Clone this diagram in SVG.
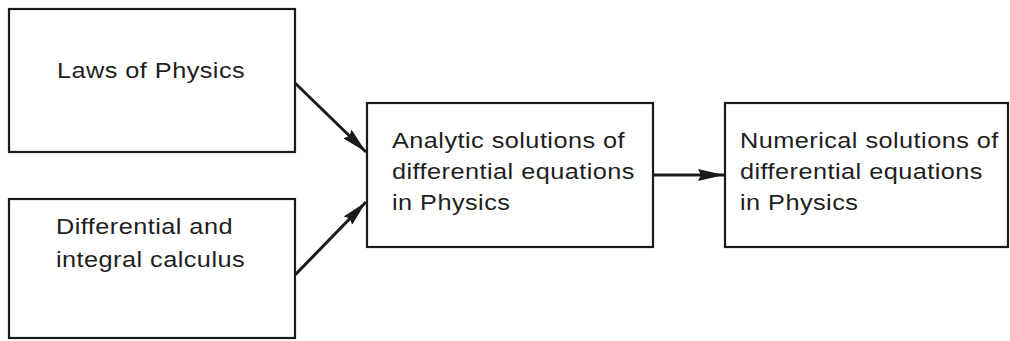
<svg xmlns="http://www.w3.org/2000/svg" width="1010" height="341" viewBox="0 0 1010 341">
<defs>
<style>
.box{fill:#fff;stroke:#1a1a1a;stroke-width:2.2}
.t{font-family:"Liberation Sans",Arial,sans-serif;font-size:22px;fill:#1e1e1e;letter-spacing:0.4px}
.c{stroke:#1a1a1a;stroke-width:3;fill:none}
</style>
<marker id="ah" viewBox="0 0 26 12" refX="26" refY="6" markerWidth="26" markerHeight="12" markerUnits="userSpaceOnUse" orient="auto">
<path d="M0,0 L26,6 L0,12 L3,6 z" fill="#1a1a1a"/>
</marker>
</defs>
<rect width="1010" height="341" fill="#fff"/>
<g id="laws">
<rect class="box" x="9" y="9" width="286" height="143"/>
<text class="t" transform="translate(57,78) scale(1.15,1)">Laws of Physics</text>
</g>
<g id="calculus">
<rect class="box" x="9" y="199" width="286" height="139"/>
<text class="t" transform="translate(56,234) scale(1.15,1)">Differential and</text>
<text class="t" transform="translate(56,267) scale(1.15,1)">integral calculus</text>
</g>
<g id="analytic">
<rect class="box" x="367" y="103" width="286" height="144"/>
<text class="t" transform="translate(392,148) scale(1.15,1)">Analytic solutions of</text>
<text class="t" transform="translate(392,179) scale(1.15,1)">differential equations</text>
<text class="t" transform="translate(392,210) scale(1.15,1)">in Physics</text>
</g>
<g id="numerical">
<rect class="box" x="725" y="103" width="283" height="144"/>
<text class="t" transform="translate(740,148) scale(1.15,1)">Numerical solutions of</text>
<text class="t" transform="translate(740,179) scale(1.15,1)">differential equations</text>
<text class="t" transform="translate(740,210) scale(1.15,1)">in Physics</text>
</g>
<g id="connectors">
<line class="c" x1="295" y1="83" x2="366" y2="152" marker-end="url(#ah)"/>
<line class="c" x1="295" y1="275" x2="366" y2="202" marker-end="url(#ah)"/>
<line class="c" x1="653" y1="175" x2="724" y2="175" marker-end="url(#ah)"/>
</g>
</svg>
